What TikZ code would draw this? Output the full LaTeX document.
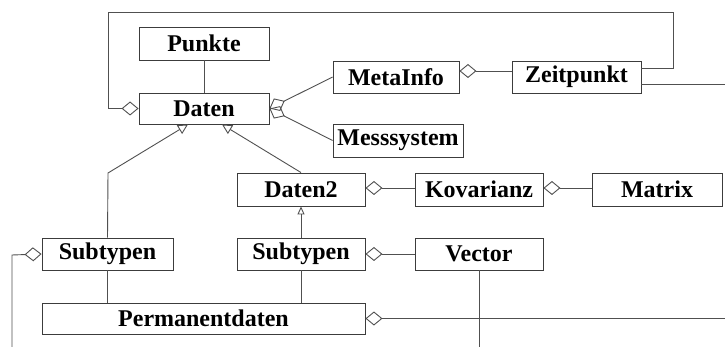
\documentclass[tikz,border=0pt]{standalone}
\usepackage{fontspec}
\setmainfont{Liberation Serif}
\usetikzlibrary{arrows.meta}
\definecolor{boxc}{RGB}{60,60,60}
\definecolor{linec}{RGB}{80,80,80}
\tikzset{
  cls/.style={draw=boxc, line width=0.9pt, fill=white, inner sep=0pt, minimum height=32pt,
    font=\fontsize{24}{26}\selectfont\bfseries},
  conn/.style={draw=linec, line width=0.9pt},
  agg/.style={conn, {Diamond[open, length=17pt, width=14pt]}-},
  gen/.style={conn, -{Triangle[open, length=10pt, width=10pt]}},
  gensmall/.style={conn, -{Triangle[open, length=8pt, width=7pt]}}
}
\begin{document}
\begin{tikzpicture}[x=1pt, y=-1pt]
\useasboundingbox (0,0) rectangle (725,347);
\node[cls, minimum width=130pt, minimum height=33pt] (punkte) at (204,43.5) {Punkte};
\node[cls, minimum width=130pt, minimum height=31pt] (daten) at (204,108.5) {Daten};
\node[cls, minimum width=126pt] (meta) at (396,77) {MetaInfo};
\node[cls, minimum width=130pt, minimum height=33pt] (mess) at (398,140.5) {Messsystem};
\node[cls, minimum width=129pt] (zeit) at (576.5,77) {Zeitpunkt};
\node[cls, minimum width=128pt, minimum height=33pt] (daten2) at (301,189.5) {Daten2};
\node[cls, minimum width=128pt, minimum height=33pt] (kov) at (479,189.5) {Kovarianz};
\node[cls, minimum width=130pt, minimum height=33pt] (matrix) at (657,189.5) {Matrix};
\node[cls, minimum width=131pt] (sub1) at (107.5,254) {Subtypen};
\node[cls, minimum width=128pt] (sub2) at (301,254) {Subtypen};
\node[cls, minimum width=128pt] (vector) at (479,254) {Vector};
\node[cls, minimum width=323pt, minimum height=31pt] (perm) at (203.5,318.5) {Permanentdaten};

\coordinate (loopL) at (108,12);
\coordinate (loopR) at (673,12);
\coordinate (zeitEnd) at (725,84);
\coordinate (bendL) at (108,173);
\coordinate (subL) at (12,255);
\coordinate (subLEnd) at (12,347);
\coordinate (vecEnd) at (479,347);
\coordinate (permEnd) at (725,318.5);

\draw[conn] (punkte.south) -- (daten.north);
\draw[agg] (daten.east) -- (meta.west);
\draw[agg] (daten.east) -- (mess.west);
\draw[agg] ([yshift=6pt]meta.east) -- ([yshift=6pt]zeit.west);
\draw[agg] (daten.west) -| (loopL) -- (loopR) |- ([yshift=9pt]zeit.east);
\draw[conn] ([yshift=-7pt]zeit.east) -- (zeitEnd);
\draw[gen] (sub1.north) -- (bendL) -- ([xshift=-16pt]daten.south);
\draw[gen] (daten2.north) -- ([xshift=18pt]daten.south);
\draw[agg] ([yshift=1.5pt]daten2.east) -- ([yshift=1.5pt]kov.west);
\draw[agg] ([yshift=1.5pt]kov.east) -- ([yshift=1.5pt]matrix.west);
\draw[gensmall] (sub2.north) -- (daten2.south);
\draw[agg] (sub2.east) -- (vector.west);
\draw[conn] (vector.south) -- (vecEnd);
\draw[agg] (sub1.west) -- (subL) -- (subLEnd);
\draw[conn] (sub1.south) -- (sub1.south |- perm.north);
\draw[conn] (sub2.south) -- (sub2.south |- perm.north);
\draw[agg] (perm.east) -- (permEnd);
\end{tikzpicture}
\end{document}
